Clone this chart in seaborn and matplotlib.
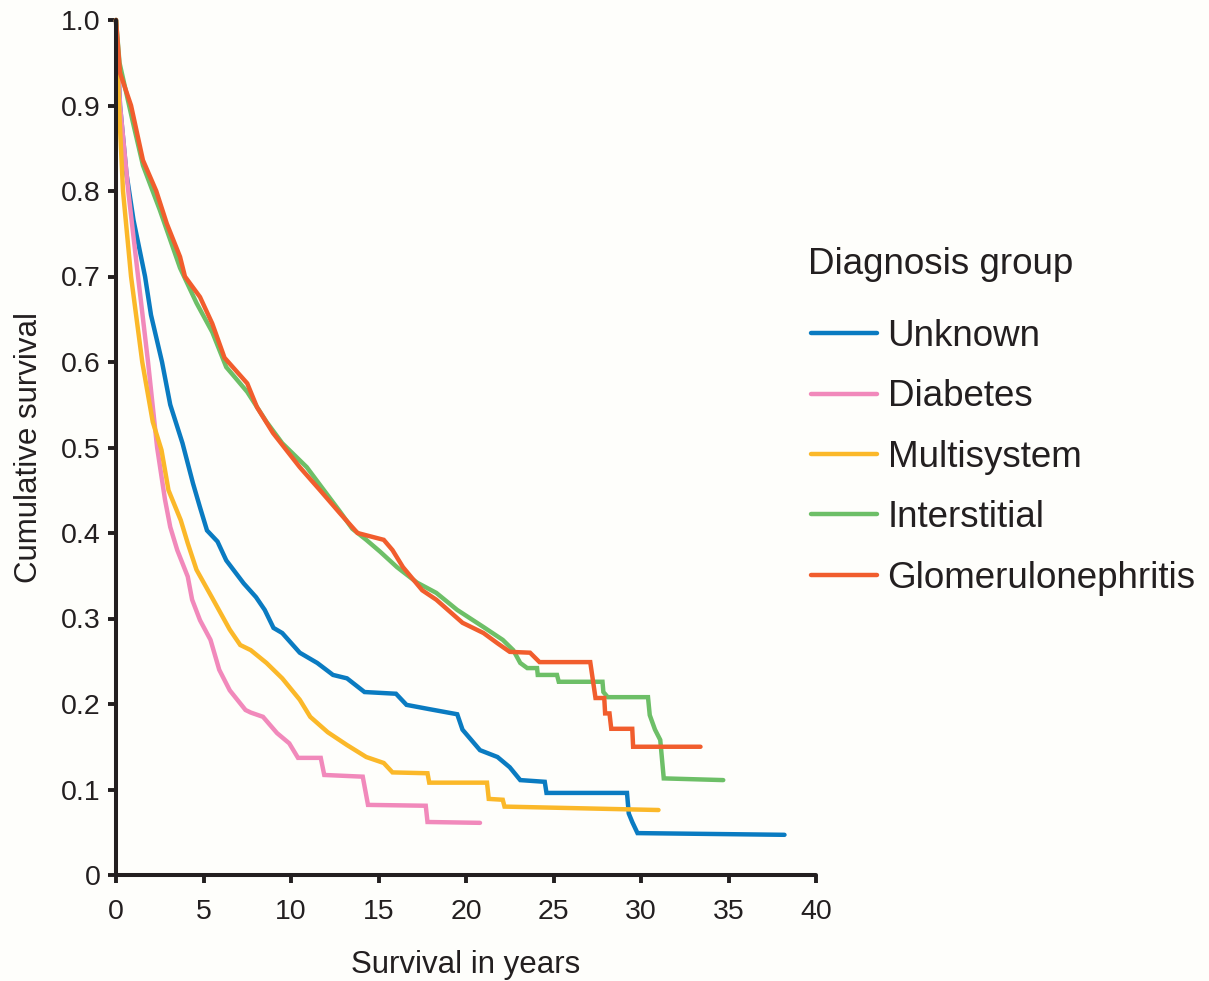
import matplotlib
matplotlib.use("Agg")
import matplotlib.pyplot as plt
import seaborn as sns
import pandas as pd

# Kaplan-Meier style survival estimates per diagnosis group (years, cumulative survival)
unknown_t = [0, 0.23, 0.6, 1.0, 1.66, 2.0, 2.63, 3.1, 3.8, 4.4, 4.8, 5.2, 5.8, 6.3, 7.3, 8.0,
             8.5, 9.0, 9.5, 10.5, 11.5, 12.4, 13.2, 14.2, 16.0, 16.6, 17.9, 19.5, 19.8, 20.8,
             21.8, 22.5, 23.1, 24.5, 24.6, 29.2, 29.3, 29.5, 29.8, 38.2]
unknown_s = [1.0, 0.90, 0.82, 0.766, 0.70, 0.655, 0.60, 0.55, 0.505, 0.458, 0.43, 0.403, 0.39,
             0.368, 0.341, 0.325, 0.31, 0.289, 0.283, 0.26, 0.248, 0.234, 0.23, 0.214, 0.212,
             0.199, 0.194, 0.188, 0.170, 0.146, 0.138, 0.126, 0.111, 0.109, 0.096, 0.096, 0.072,
             0.062, 0.049, 0.047]

diabetes_t = [0, 0.23, 0.7, 1.26, 1.83, 2.35, 2.8, 3.1, 3.5, 4.1, 4.35, 4.8, 5.4, 5.9, 6.5, 7.4,
              7.7, 8.4, 9.2, 9.9, 10.4, 11.7, 11.9, 14.1, 14.4, 17.7, 17.8, 20.8]
diabetes_s = [1.0, 0.90, 0.80, 0.70, 0.60, 0.50, 0.439, 0.407, 0.38, 0.349, 0.322, 0.298, 0.275,
              0.24, 0.216, 0.193, 0.19, 0.185, 0.166, 0.154, 0.137, 0.137, 0.117, 0.115, 0.082,
              0.081, 0.062, 0.061]

multisystem_t = [0, 0.17, 0.4, 0.86, 1.5, 2.1, 2.6, 3.0, 3.7, 4.1, 4.6, 5.5, 6.5, 7.1, 7.7, 8.6,
                 9.5, 10.5, 11.1, 12.1, 13.2, 14.3, 15.3, 15.8, 17.8, 17.9, 21.2, 21.3, 22.1,
                 22.2, 31.0]
multisystem_s = [1.0, 0.90, 0.80, 0.70, 0.60, 0.53, 0.497, 0.45, 0.415, 0.388, 0.357, 0.324,
                 0.287, 0.269, 0.263, 0.248, 0.23, 0.205, 0.185, 0.167, 0.152, 0.138, 0.131,
                 0.12, 0.119, 0.108, 0.108, 0.089, 0.088, 0.080, 0.076]

interstitial_t = [0, 0.2, 0.97, 1.54, 2.5, 3.66, 4.6, 5.5, 6.3, 6.8, 7.5, 8.6, 9.5, 10.9, 11.7,
                  12.8, 13.5, 14.3, 15.1, 16.06, 17.2, 18.3, 19.5, 21.0, 22.1, 22.7, 23.1, 23.5,
                  24.06, 24.1, 25.2, 25.3, 27.8, 27.85, 28.1, 30.4, 30.5, 30.8, 31.1, 31.3, 34.7]
interstitial_s = [1.0, 0.95, 0.88, 0.83, 0.778, 0.71, 0.669, 0.635, 0.594, 0.582, 0.565, 0.53,
                  0.505, 0.477, 0.455, 0.425, 0.405, 0.392, 0.378, 0.36, 0.342, 0.33, 0.31, 0.29,
                  0.275, 0.263, 0.248, 0.242, 0.242, 0.234, 0.234, 0.226, 0.226, 0.214, 0.208,
                  0.208, 0.187, 0.17, 0.158, 0.113, 0.111]

glomerulo_t = [0, 0.23, 0.86, 1.54, 2.3, 2.9, 3.66, 3.94, 4.8, 5.5, 6.2, 7.5, 8.06, 8.97, 10.5,
               11.66, 12.8, 13.8, 15.3, 15.8, 16.4, 17.5, 18.3, 19.8, 21.0, 21.8, 22.5, 23.66,
               24.2, 27.1, 27.4, 27.9, 27.95, 28.2, 28.3, 29.5, 29.55, 33.4]
glomerulo_s = [1.0, 0.938, 0.90, 0.836, 0.80, 0.762, 0.723, 0.70, 0.676, 0.645, 0.605, 0.575,
               0.547, 0.517, 0.477, 0.45, 0.423, 0.40, 0.392, 0.38, 0.36, 0.333, 0.322, 0.295,
               0.283, 0.271, 0.261, 0.26, 0.249, 0.249, 0.207, 0.207, 0.189, 0.189, 0.171,
               0.171, 0.15, 0.15]

groups = ["Unknown", "Diabetes", "Multisystem", "Interstitial", "Glomerulonephritis"]
colors = ["#0a7bc1", "#f189bb", "#fbb829", "#6dbf67", "#f15d2d"]
x_ticks = [0, 5, 10, 15, 20, 25, 30, 35, 40]
y_ticks = [0, 0.1, 0.2, 0.3, 0.4, 0.5, 0.6, 0.7, 0.8, 0.9, 1.0]
y_tick_labels = ["0", "0.1", "0.2", "0.3", "0.4", "0.5", "0.6", "0.7", "0.8", "0.9", "1.0"]

series = [(unknown_t, unknown_s), (diabetes_t, diabetes_s), (multisystem_t, multisystem_s),
          (interstitial_t, interstitial_s), (glomerulo_t, glomerulo_s)]
frames = []
for name, (t, s) in zip(groups, series):
    frames.append(pd.DataFrame({"t": t, "S": s, "group": name}))
df = pd.concat(frames, ignore_index=True)

sns.set_theme(style="ticks")
plt.rcParams["font.family"] = ["Liberation Sans", "DejaVu Sans"]
bg = "#fefefb"
ink = "#231f20"

fig = plt.figure(figsize=(12.09, 9.81), dpi=100, facecolor=bg)
ax = fig.add_axes([116 / 1209, 1 - 875 / 981, 700 / 1209, 855 / 981])
ax.set_facecolor(bg)

sns.lineplot(data=df, x="t", y="S", hue="group", hue_order=groups,
             palette=dict(zip(groups, colors)), estimator=None, sort=False,
             units="group", linewidth=3.2, ax=ax, legend=True, clip_on=False)
for line in ax.lines:
    line.set_solid_capstyle("round")
    line.set_solid_joinstyle("miter")

ax.set_xlim(0, 40)
ax.set_ylim(0, 1.0)
ax.set_xticks(x_ticks)
ax.set_yticks(y_ticks)
ax.set_yticklabels(y_tick_labels)
ax.tick_params(axis="both", direction="out", length=6, width=2.8, color=ink,
               labelsize=20.5, labelcolor=ink)
ax.tick_params(axis="x", pad=11)
ax.tick_params(axis="y", pad=5)
for side in ["top", "right"]:
    ax.spines[side].set_visible(False)
for side in ["left", "bottom"]:
    ax.spines[side].set_linewidth(2.9)
    ax.spines[side].set_color(ink)
    ax.spines[side].set_capstyle("round")

ax.set_xlabel("Survival in years", fontsize=22.5, color=ink, labelpad=18)
ax.set_ylabel("Cumulative survival", fontsize=22.5, color=ink, labelpad=12)

handles, labels = ax.get_legend_handles_labels()
ax.legend_.remove()

# Legend title drawn separately so its gap to the entries can be set freely
fig.text(808 / 1209, 1 - 265 / 981, "Diagnosis group", fontsize=26.5, color=ink,
         ha="left", va="center")
leg = fig.legend(handles, labels, loc="upper left",
                 bbox_to_anchor=(811 / 1209, 1 - 319 / 981), frameon=False,
                 fontsize=26.5, handlelength=1.8,
                 handletextpad=0.28, labelspacing=0.69, borderpad=0, borderaxespad=0)
for h in leg.get_lines():
    h.set_linewidth(3.2)
    h.set_solid_capstyle("round")
for txt in leg.get_texts():
    txt.set_color(ink)

fig.savefig("out.png", dpi=100, facecolor=bg)
